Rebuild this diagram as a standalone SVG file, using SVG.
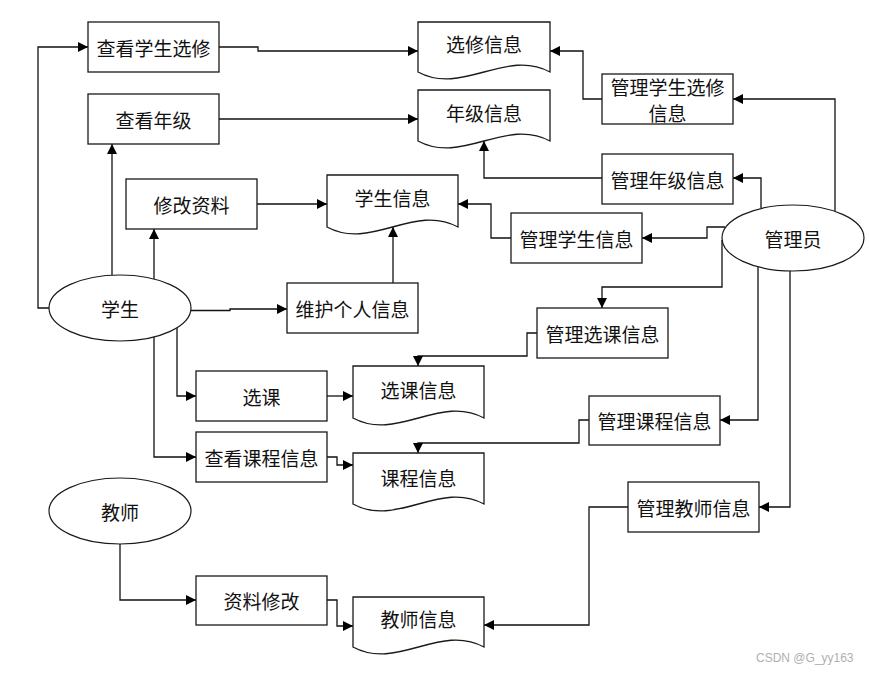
<svg xmlns="http://www.w3.org/2000/svg" width="869" height="674" viewBox="0 0 869 674">
<defs>
<marker id="arr" markerUnits="userSpaceOnUse" markerWidth="11" markerHeight="11" refX="10" refY="5" orient="auto">
<path d="M0,0 L10,5 L0,10 Z" fill="#000"/>
</marker>
<style>
.box{fill:#fff;stroke:#1a1a1a;stroke-width:1.3}
.doc{fill:#fff;stroke:#1a1a1a;stroke-width:1.3}
.ell{fill:#fff;stroke:#1a1a1a;stroke-width:1.2}
.t{font-family:"Noto Sans CJK SC","Liberation Sans",sans-serif;font-size:19px;fill:#111;text-anchor:middle;dominant-baseline:central}
.c{fill:none;stroke:#111;stroke-width:1.3;marker-end:url(#arr)}
.wm{font-family:"Liberation Sans",sans-serif;font-size:12px;fill:#b0b0b0}
</style>
</defs>
<rect width="869" height="674" fill="#fff"/>

<g id="connectors">
<polyline class="c" points="49,308 38,308 38,47 88,47"/>
<polyline class="c" points="112,275 112,144"/>
<polyline class="c" points="154,279 154,229"/>
<polyline class="c" points="190,310.5 230,310.5 230,309 287,309"/>
<polyline class="c" points="154,337 154,457 196,457"/>
<polyline class="c" points="177,328 177,396 196,396"/>
<polyline class="c" points="219,47 258,47 258,51 418,51"/>
<polyline class="c" points="219,119 418,119"/>
<polyline class="c" points="257,204 327,204"/>
<polyline class="c" points="393,283 393,227"/>
<polyline class="c" points="511,238 491,238 491,204 458,204"/>
<polyline class="c" points="602,99 583,99 583,51 550,51"/>
<polyline class="c" points="602,178 484,178 484,141"/>
<polyline class="c" points="835,211 835,99 733,99"/>
<polyline class="c" points="761,208 761,178 733,178"/>
<polyline class="c" points="725,227 707,227 707,238 642,238"/>
<polyline class="c" points="722,240 722,287 602,287 602,308"/>
<polyline class="c" points="758,267 758,420 720,420"/>
<polyline class="c" points="790,271 790,507 759,507"/>
<polyline class="c" points="537,333 527,333 527,356 418,356 418,366"/>
<polyline class="c" points="589,420 579,420 579,443 418,443 418,453"/>
<polyline class="c" points="327,396 353,396"/>
<polyline class="c" points="327,457 337,457 337,465 353,465"/>
<polyline class="c" points="120,544 120,600 196,600"/>
<polyline class="c" points="327,600 337,600 337,626 353,626"/>
<polyline class="c" points="628,507 589,507 589,625 484,625"/>
</g>

<g id="n-xuesheng"><ellipse class="ell" cx="120" cy="308" rx="71" ry="33"/><text class="t" x="120" y="308">学生</text></g>
<g id="n-jiaoshi"><ellipse class="ell" cx="120" cy="511" rx="71" ry="33"/><text class="t" x="120" y="511">教师</text></g>
<g id="n-guanliyuan"><ellipse class="ell" cx="793" cy="238" rx="71" ry="33"/><text class="t" x="793" y="238">管理员</text></g>

<g id="n-ckxsxx"><rect class="box" x="88" y="22" width="131" height="50"/><text class="t" x="153.5" y="47">查看学生选修</text></g>
<g id="n-cknj"><rect class="box" x="88" y="94" width="131" height="50"/><text class="t" x="153.5" y="119">查看年级</text></g>
<g id="n-xgzl"><rect class="box" x="126" y="179" width="131" height="50"/><text class="t" x="191.5" y="204">修改资料</text></g>
<g id="n-whgrxx"><rect class="box" x="287" y="283" width="131" height="50"/><text class="t" x="352.5" y="308">维护个人信息</text></g>
<g id="n-xk"><rect class="box" x="196" y="371" width="131" height="50"/><text class="t" x="261.5" y="396">选课</text></g>
<g id="n-ckkcxx"><rect class="box" x="196" y="432" width="131" height="50"/><text class="t" x="261.5" y="457">查看课程信息</text></g>
<g id="n-zlxg"><rect class="box" x="196" y="576" width="131" height="49"/><text class="t" x="261.5" y="600.5">资料修改</text></g>
<g id="n-glxsxxxx"><rect class="box" x="602" y="74" width="131" height="50"/><text class="t" x="667.5" y="86">管理学生选修</text><text class="t" x="667.5" y="112">信息</text></g>
<g id="n-glnjxx"><rect class="box" x="602" y="154" width="131" height="50"/><text class="t" x="667.5" y="179">管理年级信息</text></g>
<g id="n-glxsxx"><rect class="box" x="511" y="213" width="131" height="50"/><text class="t" x="576.5" y="238">管理学生信息</text></g>
<g id="n-glxkxx"><rect class="box" x="537" y="308" width="131" height="50"/><text class="t" x="602.5" y="333">管理选课信息</text></g>
<g id="n-glkcxx"><rect class="box" x="589" y="396" width="131" height="49"/><text class="t" x="654.5" y="420">管理课程信息</text></g>
<g id="n-gljsxx"><rect class="box" x="628" y="482" width="131" height="50"/><text class="t" x="693.5" y="507">管理教师信息</text></g>

<g id="d-xxxx"><path class="doc" d="M418,22 H550 V72 C506,48 462,96 418,72 Z"/><text class="t" x="484" y="43">选修信息</text></g>
<g id="d-njxx"><path class="doc" d="M418,90 H550 V141 C506,117 462,165 418,141 Z"/><text class="t" x="484" y="112">年级信息</text></g>
<g id="d-xsxx"><path class="doc" d="M327,175 H458 V227 C414,203 371,251 327,227 Z"/><text class="t" x="392.5" y="197">学生信息</text></g>
<g id="d-xkxx"><path class="doc" d="M353,366 H484 V418 C440,394 397,442 353,418 Z"/><text class="t" x="418.5" y="389">选课信息</text></g>
<g id="d-kcxx"><path class="doc" d="M353,453 H484 V504 C440,480 397,528 353,504 Z"/><text class="t" x="418.5" y="477">课程信息</text></g>
<g id="d-jsxx"><path class="doc" d="M353,597 H484 V647 C440,623 397,671 353,647 Z"/><text class="t" x="418.5" y="618">教师信息</text></g>

<text class="wm" x="756" y="662">CSDN @G_yy163</text>
</svg>
